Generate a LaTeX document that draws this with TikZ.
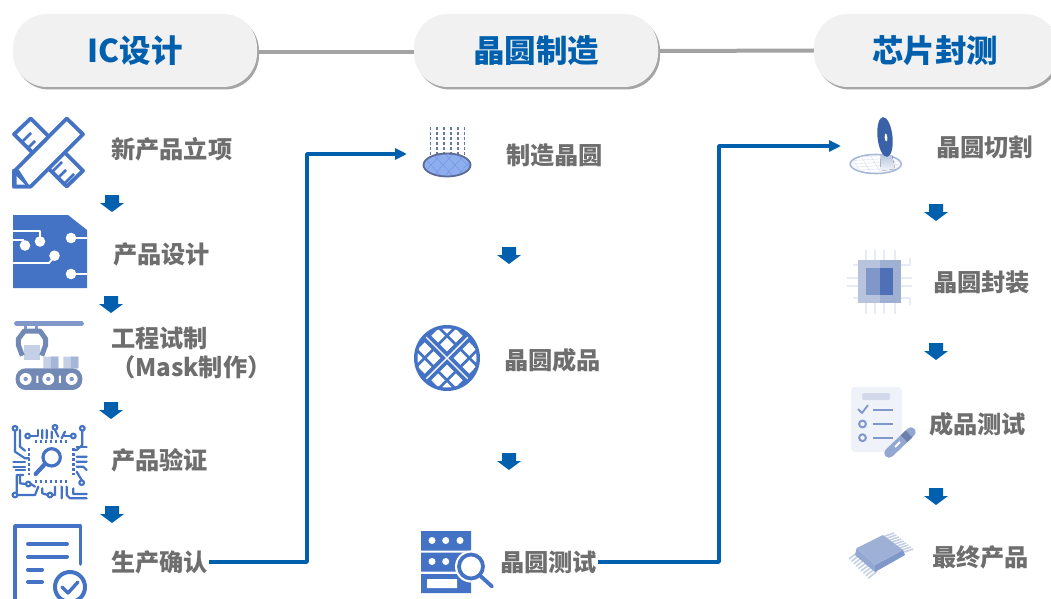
\documentclass[tikz,border=0pt]{standalone}
\usepackage{fontspec}
\setmainfont{Noto Sans CJK SC}
\usetikzlibrary{arrows.meta,shadows,calc}
\definecolor{icb}{HTML}{4472C4}
\definecolor{lnb}{HTML}{0060AE}
\definecolor{txg}{HTML}{6E6E6E}
\definecolor{pill}{HTML}{F1F1F2}
\definecolor{mdb}{HTML}{7F97C9}
\definecolor{ltb}{HTML}{C5D0E6}
\tikzset{
 pillbox/.style={rounded corners=34pt,fill=pill,minimum width=244pt,minimum height=73pt,inner sep=0pt,
   text=lnb,font=\fontsize{31.5}{32}\selectfont\bfseries,
   drop shadow={shadow xshift=2pt,shadow yshift=-2.5pt,fill=black!50,opacity=.7}},
 lab/.style={anchor=west,inner sep=0pt,text=txg,font=\fontsize{24.2}{25}\selectfont\bfseries},
 toplink/.style={draw=black!36,line width=4pt},
 flow/.style={draw=lnb,line width=3.6pt,-{Triangle[length=12pt,width=11pt]}},
 downar/.pic={\fill[lnb] (-7,-8) -- (7,-8) -- (7,0) -- (12,0) -- (0,9) -- (-12,0) -- (-7,0) -- cycle;},
 zoomu/.style={x=.3333pt,y=-.3333pt},
}
\begin{document}
\begin{tikzpicture}[x=1pt,y=-1pt,line join=round]
\path[use as bounding box,clip] (0,0) rectangle (1051,599);
\fill[white] (0,0) rectangle (1051,599);

% ---- pills and the links between them
\coordinate (pa) at (135,50.5);
\coordinate (pb) at (536,50.5);
\coordinate (pc) at (936,50.5);
\node[pillbox] (ic) at (pa) {\raisebox{-1.5pt}{IC设计}};
\node[pillbox] (fab) at (pb) {\raisebox{-1.5pt}{晶圆制造}};
\node[pillbox] (pkg) at (pc) {\raisebox{-1.5pt}{芯片封测}\hspace*{2pt}};
\draw[toplink] ([yshift=-1.5pt,xshift=2pt]ic.east) -- ([yshift=-1.5pt]fab.west);
\draw[toplink] ([yshift=-.5pt,xshift=2pt]fab.east) -- ([yshift=0pt]pkg.west);

% ---- labels
\node[lab] (a1) at (111,149) {新产品立项};
\node[lab] (a2) at (113,254) {产品设计};
\node[lab] (a3) at (111,338) {工程试制};
\node[lab] (a3b) at (111,367) {（Mask制作）};
\node[lab] (a4) at (111,460) {产品验证};
\node[lab] (a5) at (111,562) {生产确认};
\node[lab] (b1) at (506,155) {制造晶圆};
\node[lab] (b2) at (504,360) {晶圆成品};
\node[lab] (b3) at (500,562) {晶圆测试};
\node[lab] (c1) at (936,147) {晶圆切割};
\node[lab] (c2) at (933,282) {晶圆封装};
\node[lab] (c3) at (929,424) {成品测试};
\node[lab] (c4) at (932,557) {最终产品};

% ---- flow connectors
\coordinate (t1) at (407,154);
\coordinate (t2) at (841,146);
\coordinate (k1) at (307,300);
\coordinate (k2) at (719,300);
\draw[flow] ([xshift=1pt]a5.east) -- (k1 |- a5.east) -- (k1 |- t1) -- (t1);
\draw[flow] ([xshift=1pt]b3.east) -- (k2 |- b3.east) -- (k2 |- t2) -- (t2);

% ---- down arrows
\foreach \p in {(112,203),(111,304),(111,410),(112,514),(509,255),(509,461),(936,212),(936,351),(936,496)}
  \pic at \p {downar};

% ---- ruler & pencil
\begin{scope}[draw=icb,line width=3.8pt]
\draw (14,134.3) -- (30.7,118.5) -- (83,170.7) -- (66.7,186.5) -- cycle;
\draw[line width=2.6pt] (21,143) -- (31,133) (27,149) -- (35,141) (33,155) -- (43,145);
\draw[line width=2.6pt] (52,172) -- (62,162) (58,178) -- (66,170) (64,184) -- (74,174);
\fill[white] (14,171.5) -- (66.7,118.5) -- (83,134.3) -- (30.7,186.5) -- (14,186.5) -- cycle;
\draw (14,171.5) -- (66.7,118.5) -- (83,134.3) -- (30.7,186.5) -- (14,186.5) -- cycle;
\fill[icb] (12.3,169) -- (19,170) -- (31,188.3) -- (12.3,188.3) -- cycle;
\fill[white] (16.5,176) -- (25,184.5) -- (16.5,184.5) -- cycle;
\end{scope}

% ---- circuit card
\fill[icb] (13,215) -- (68,215) -- (87,230) -- (87,288) -- (13,288) -- cycle;
\begin{scope}[draw=white,line width=1.8pt]
\draw (13,231) -- (40,231) -- (40,240);
\draw (13,240) -- (24,240);
\draw (13,263) -- (49,263) -- (55,256);
\draw (71,238) -- (87,238);
\draw (71,274) -- (87,274);
\end{scope}
\fill[white] (40,241.5) circle (5.3) (25,245.5) circle (5.3) (54.5,255.7) circle (5.3) (71,238) circle (5.3) (71,274) circle (5.3);

% ---- robot arm & conveyor
\begin{scope}[shift={(5,315)},zoomu]
\draw[mdb,line width=4.4pt,line cap=round] (34,25) -- (230,25);
\draw[mdb,line width=3pt] (62,25) -- (62,45) (95,25) -- (95,45);
\fill[ltb] (57,90) rectangle (106,135);
\draw[mdb!90!black,line width=5pt] (52,122) -- (40,90) -- (40,72) -- (58,48) -- (105,48) -- (122,72) -- (122,90) -- (110,122);
\fill[ltb] (115,125) rectangle (160,160) (175,125) rectangle (220,160);
\fill[mdb!70] (138,125) rectangle (160,160) (198,125) rectangle (220,160);
\fill[mdb!90!black,rounded corners=10pt] (32,160) rectangle (232,225);
\foreach \cx in {62,130,200} {\fill[white] (\cx,192) circle (6pt); \fill[mdb] (\cx,192) circle (2.2pt);}
\fill[white] (94,182) rectangle (100,204) (162,182) rectangle (168,204);
\end{scope}

% ---- circuit & magnifier
\begin{scope}[shift={(5,420)},zoomu,draw=icb,line width=2.2pt,line cap=round]
\draw[line width=3.2pt] (140,112) circle (26);
\draw[line width=4.2pt] (118,134) -- (92,162);
\draw (30,32) -- (30,95) -- (60,115) -- (72,115);
\draw (45,30) -- (45,80) -- (60,92);
\draw (75,48) -- (100,48) -- (100,30);
\draw (112,55) -- (112,30) (125,55) -- (125,30) (140,55) -- (140,35) (160,50) -- (150,30) (170,55) -- (180,35);
\draw (198,48) -- (178,48);
\draw (232,32) -- (232,75) -- (215,90) -- (205,90);
\draw (215,110) -- (245,110) (215,125) -- (245,125) (215,140) -- (235,140) -- (245,150);
\draw (215,80) -- (245,80);
\draw (215,155) -- (230,180);
\draw[dash pattern=on 2.5pt off 2.5pt,line cap=butt,line width=2.4pt] (90,65) -- (190,65) (90,185) -- (190,185) (72,85) -- (72,165) (205,85) -- (205,165);
\draw (25,125) -- (60,125) (25,140) -- (60,140) (32,150) -- (60,150);
\draw (35,218) -- (35,165) -- (55,165) (45,170) -- (45,190) -- (62,192);
\draw (37,225) -- (90,225) -- (100,200) (78,192) -- (90,200);
\draw (112,205) -- (112,220) -- (128,225) (150,200) -- (150,225) -- (142,225);
\draw (170,200) -- (170,235) (185,200) -- (185,225) -- (195,235) -- (245,235) (205,205) -- (205,222) -- (245,222);
\foreach \q in {(30,25),(232,25),(30,225),(68,48),(205,48),(150,22),(230,188),(70,192),(135,225)}
  \draw[fill=white] \q circle (7);
\end{scope}

% ---- document with check
\begin{scope}[draw=icb,line cap=round]
\draw[line width=3.6pt] (15,602) -- (15,526) -- (80.5,526) -- (80.5,564);
\draw[line width=4pt] (28,544) -- (67,544) (28,556.5) -- (67,556.5) (28,569.5) -- (42,569.5) (28,582) -- (42,582);
\draw[line width=4pt,fill=white] (70,587) circle (15);
\draw[line width=3.4pt] (62,587) -- (68,593) -- (78,582);
\end{scope}

% ---- wafer under deposition
\draw[mdb!80!black,line width=1.4pt,dash pattern=on 2.5pt off 2.5pt] \foreach \dx in {430.5,437,444,451,458,464.5} {(\dx,127) -- (\dx,155)};
\definecolor{wafa}{HTML}{8FAEF0}
\definecolor{wafb}{HTML}{5B6B95}
\draw[fill=wafa,draw=wafb,line width=1.8pt] (447,165) ellipse (23.5 and 11.5);
\begin{scope}
\clip (447,165) ellipse (22.5 and 10.5);
\draw[icb!45!wafa,line width=.4pt] \foreach \k in {-40,-28,...,40} {(447+\k-10,154) -- (447+\k+10,176) (447+\k+10,154) -- (447+\k-10,176)};
\end{scope}

% ---- finished wafer
\fill[icb] (447,358) circle (33);
\begin{scope}
\clip (447,358) circle (29.5);
\begin{scope}[shift={(447,358)},rotate=45]
\foreach \u in {-34.5,-22,-9.5,9.5,22,34.5} \foreach \v in {-34.5,-22,-9.5,9.5,22,34.5}
  \fill[white] ({\u-4.8},{\v-4.8}) rectangle ({\u+4.8},{\v+4.8});
\draw[white,line width=1.4pt] (-34,0) -- (34,0) (0,-34) -- (0,34);
\end{scope}
\end{scope}

% ---- server & magnifier
\fill[icb] (421,531) rectangle (471,550.5) (421,552.5) rectangle (471,571.5) (421,574) rectangle (471,593);
\fill[white] (432,540.5) circle (3.5) (445.7,540.5) circle (3.5) (460,540.5) circle (3.5) (432,561.5) circle (3.5) (445.7,561.5) circle (3.5) (427,579) rectangle (457,588);
\fill[white] (471,566.5) circle (16);
\draw[icb,line width=3.8pt] (471,566.5) circle (12);
\draw[icb,line width=3.8pt,line cap=round] (480.5,576) -- (492,586.5);

% ---- dicing blade
\draw[draw=mdb!70,line width=1.6pt,fill=white] (875.7,164) ellipse (25.5 and 9.5);
\begin{scope}
\clip (875.7,164) ellipse (25 and 9);
\draw[ltb!70,line width=.4pt] \foreach \k in {-30,-20,...,30} {(875.7+\k-6,154) -- (875.7+\k+6,174) (850,164+\k/3) -- (902,164+\k/3-3)};
\end{scope}
\fill[top color=mdb!55,bottom color=ltb!20] (881,155) -- (892,155) -- (895,169) -- (880,171) -- cycle;
\fill[black!15!icb,rotate around={6:(885,137)}] (885,137) ellipse (7.5 and 20);
\fill[white,rotate around={6:(886,137.5)}] (886,137.5) ellipse (1.3 and 4);

% ---- packaged die
\definecolor{diea}{HTML}{B8C4DE}
\definecolor{dieb}{HTML}{9FB0D3}
\definecolor{diec}{HTML}{7F97C9}
\definecolor{died}{HTML}{4F6FB7}
\definecolor{diet}{HTML}{E6EBF5}
\begin{scope}[draw=diet,line width=2.4pt]
\draw (847,278) -- (858,278) (847,286) -- (858,286) (901,278) -- (912,278) (901,286) -- (912,286);
\draw (875,250) -- (875,260) (884,250) -- (884,260) (875,303) -- (875,314) (884,303) -- (884,314);
\draw (853,265) -- (858,265) (853,298) -- (858,298) (901,265) -- (910,265) -- (910,258) (901,298) -- (910,298) -- (910,305);
\draw (866,250) -- (866,260) (895,250) -- (895,260) (866,303) -- (866,314) (895,303) -- (895,314);
\end{scope}
\fill[fill=diea] (858,260) rectangle (880,303);
\fill[fill=dieb] (880,260) rectangle (901,303);
\fill[fill=diec] (866,268) rectangle (880,295);
\fill[fill=died] (880,268) rectangle (893,295);

% ---- checklist & pen
\definecolor{chkb}{HTML}{F0F2F9}
\fill[rounded corners=4pt,fill=chkb] (851,387) rectangle (902,452);
\fill[rounded corners=2pt,fill=ltb!80] (862,393) rectangle (890,400);
\draw[mdb,line width=1.8pt] (858,409) -- (862,413) -- (868,405);
\draw[mdb,line width=1.8pt] (873,410) -- (893,410) (873,424) -- (893,424) (873,437.7) -- (893,437.7);
\draw[mdb,line width=2pt] (862.5,424) circle (3.4) (862.5,437.7) circle (3.4);
\draw[mdb!85,line width=9.5pt,line cap=round] (889,453) -- (911,432);
\draw[mdb!85!black,line width=9.5pt] (904,438.7) -- (909,434);
\draw[white,line width=1.8pt] (895,447) -- (900,442);

% ---- packaged chip
\draw[ltb,line width=1.6pt] \foreach \i in {0,1,...,8} {(858+\i*2.4,552+\i*2.4) -- (849+\i*2.4,559+\i*2.4)};
\draw[ltb,line width=1.6pt] \foreach \i in {0,1,...,8} {(885+\i*2.4,536+\i*2) -- (894+\i*2.4,533+\i*2)};
\definecolor{chpa}{HTML}{9FB0D6}
\fill[mdb!85] (856.7,548) -- (875,565) -- (875,572) -- (855,555) -- cycle;
\fill[mdb] (875,565) -- (903,550) -- (905,555) -- (875,572) -- cycle;
\fill[chpa] (856.7,548) -- (883,535) -- (903,550) -- (875,565) -- cycle;
\end{tikzpicture}
\end{document}
